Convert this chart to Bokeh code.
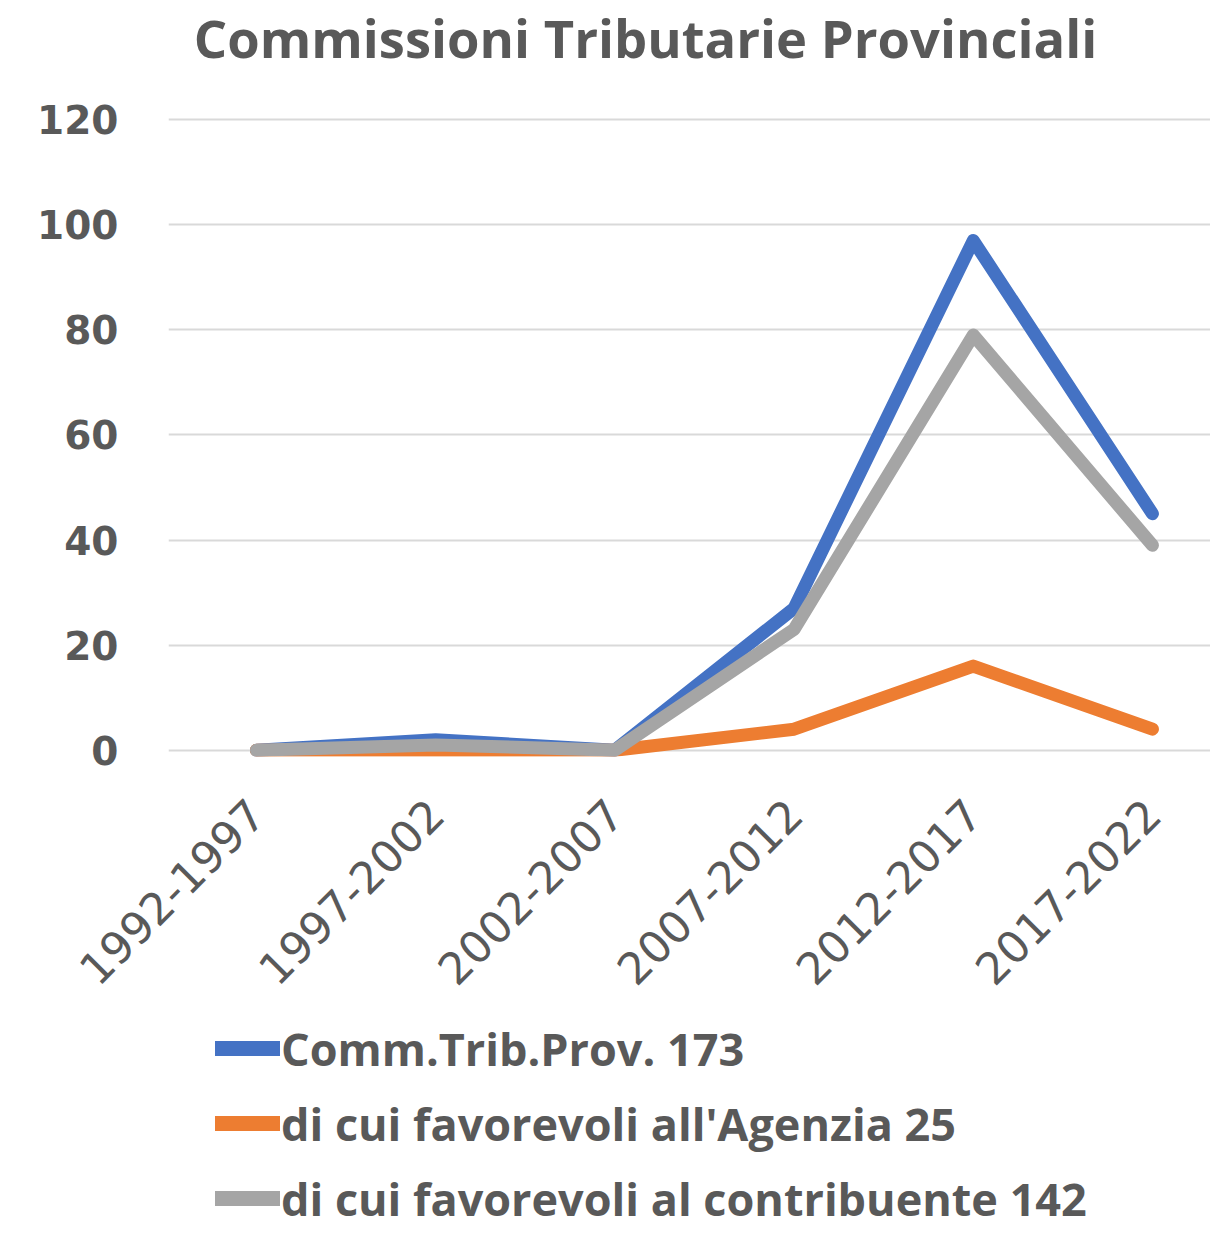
from bokeh.plotting import figure
from bokeh.layouts import column
from bokeh.models import Range1d, FixedTicker, Legend, LegendItem, Label
from bokeh.embed import file_html
from bokeh.resources import INLINE

categories = ["1992-1997", "1997-2002", "2002-2007", "2007-2012", "2012-2017", "2017-2022"]
comm_trib_prov = [0, 2, 0, 27, 97, 45]
favorevoli_agenzia = [0, 0, 0, 4, 16, 4]
favorevoli_contribuente = [0, 1, 0, 23, 79, 39]
series_labels = ["Comm.Trib.Prov. 173",
                 "di cui favorevoli all'Agenzia 25",
                 "di cui favorevoli al contribuente 142"]
series_colors = ["#4472C4", "#ED7D31", "#A5A5A5"]
y_ticks = [0, 20, 40, 60, 80, 100, 120]
title_text = "Commissioni Tributarie Provinciali"

TXT = "#595959"
W = 1210
LEFT = 168
positions = list(range(len(categories)))
series = [comm_trib_prov, favorevoli_agenzia, favorevoli_contribuente]


def blank(height):
    f = figure(width=W, height=height, title=None,
               x_range=Range1d(LEFT, W), y_range=Range1d(0, height),
               min_border_left=LEFT, min_border_right=0, min_border_top=0, min_border_bottom=0,
               x_axis_type=None, y_axis_type=None,
               output_backend="svg", toolbar_location=None)
    f.outline_line_color = None
    f.xgrid.grid_line_color = None
    f.ygrid.grid_line_color = None
    f.background_fill_color = "white"
    f.border_fill_color = "white"
    return f


# ---- title strip ----
TH = 76
tfig = blank(TH)
tfig.add_layout(Label(x=645, y=39, text=title_text,
                      text_font="Open Sans", text_font_style="bold",
                      text_font_size="52.5px", text_color=TXT,
                      text_align="center", text_baseline="alphabetic"))

# ---- main chart ----
TOP, FRAME_H, BOTTOM = 40, 640, 250
MH = TOP + FRAME_H + BOTTOM
p = figure(x_range=Range1d(-0.491, 5.324),
           y_range=Range1d(-1.2, 120.6),
           width=W, height=MH, title=None,
           min_border_left=LEFT, min_border_right=0,
           min_border_top=TOP, min_border_bottom=BOTTOM,
           output_backend="svg", toolbar_location=None)
p.outline_line_color = None
p.background_fill_color = "white"
p.border_fill_color = "white"

for vals, col in zip(series, series_colors):
    p.line(positions, vals, line_color=col, line_width=13,
           line_join="round", line_cap="round")

p.yaxis.ticker = FixedTicker(ticks=y_ticks)
p.yaxis.axis_line_color = None
p.yaxis.major_tick_line_color = None
p.yaxis.major_tick_out = 0
p.yaxis.major_tick_in = 0
p.yaxis.minor_tick_line_color = None
p.yaxis.major_label_text_font = "DejaVu Sans"
p.yaxis.major_label_text_font_style = "bold"
p.yaxis.major_label_text_font_size = "39px"
p.yaxis.major_label_text_color = TXT
p.yaxis.major_label_standoff = 50

p.xaxis.ticker = FixedTicker(ticks=positions)
p.xaxis.major_label_overrides = {i: c for i, c in zip(positions, categories)}
p.xaxis.axis_line_color = None
p.xaxis.major_tick_line_color = None
p.xaxis.major_tick_out = 0
p.xaxis.major_tick_in = 0
p.xaxis.minor_tick_line_color = None
p.xaxis.major_label_orientation = 0.7853981633974483
p.xaxis.major_label_text_font = "DejaVu Sans"
p.xaxis.major_label_text_font_size = "44px"
p.xaxis.major_label_text_color = TXT
p.xaxis.major_label_standoff = 50

p.xgrid.grid_line_color = None
p.ygrid.ticker = FixedTicker(ticks=y_ticks)
p.ygrid.grid_line_color = "#D9D9D9"
p.ygrid.grid_line_width = 2

# ---- legend strip ----
LH = 1230 - TH - MH
lfig = blank(LH)
legend_renderers = [lfig.line(positions, vals, line_color=col, line_width=15,
                              line_join="round", line_cap="round", visible=False)
                    for vals, col in zip(series, series_colors)]
legend = Legend(items=[LegendItem(label=lab, renderers=[r])
                       for lab, r in zip(series_labels, legend_renderers)],
                location=(215 - LEFT, 1), orientation="vertical",
                label_text_font="Open Sans", label_text_font_style="bold",
                label_text_font_size="45px", label_text_color=TXT,
                glyph_width=65, glyph_height=62, label_height=62, label_standoff=1,
                spacing=13, padding=0, margin=0,
                inactive_fill_alpha=0,
                border_line_color=None, background_fill_alpha=0)
lfig.add_layout(legend)

layout = column(tfig, p, lfig, spacing=0)
open("out.html", "w").write(file_html(layout, INLINE))
